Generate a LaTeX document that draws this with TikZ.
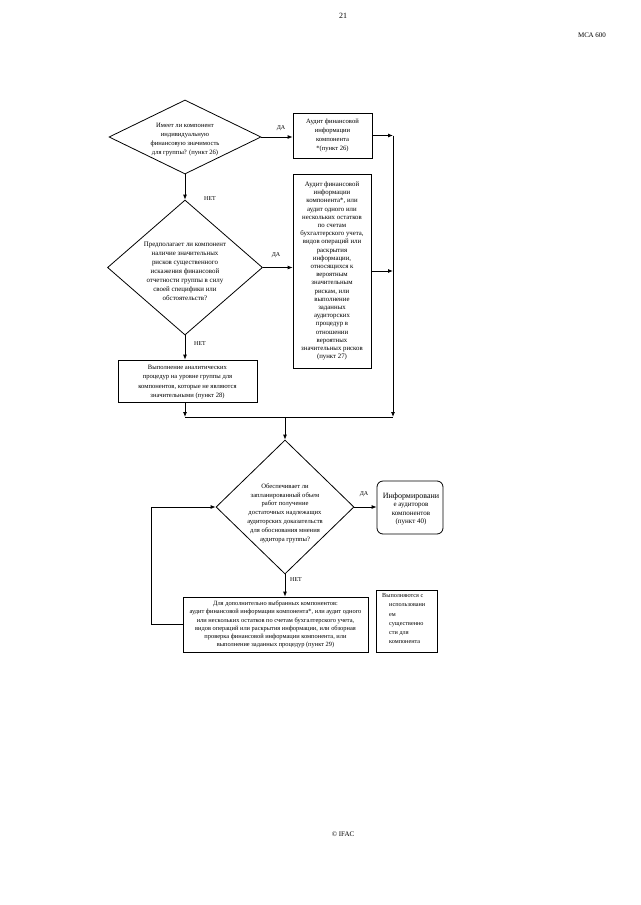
\documentclass[tikz,border=0pt]{standalone}
\usepackage{fontspec}
\setmainfont{Liberation Serif}
\usetikzlibrary{arrows.meta,shapes.geometric}
\begin{document}
\begin{tikzpicture}[x=1pt,y=-1pt,
  every node/.style={inner sep=0pt},
  ln/.style={line width=0.8pt},
  arr/.style={ln,-{Latex[length=5pt,width=4pt]}},
  dia/.style={draw,ln,diamond,minimum width=#1},
  box/.style={draw,ln,rectangle},
  txt/.style 2 args={align=center,font=\fontsize{#1}{#2}\selectfont},
  lab/.style={font=\fontsize{6}{7}\selectfont}]
\useasboundingbox (0,0) rectangle (640,905);
% header / footer
\node[font=\fontsize{8}{9}\selectfont] (pg) at (343,16) {21};
\node[font=\fontsize{7}{8}\selectfont] (std) at (592,35) {МСА 600};
\node[font=\fontsize{7}{8}\selectfont] (ifac) at (343,834) {© IFAC};
% shapes
\node[dia=152pt,minimum height=74pt] (d1) at (185,137) {};
\node[txt={6.6}{9}] (t1) at (185,140) {Имеет ли компонент\\индивидуальную\\финансовую значимость\\для группы? (пункт 26)};
\node[box,minimum width=79pt,minimum height=45pt] (b1) at (332.5,135.5) {};
\node[txt={6.6}{9}] (tb1) at (b1) {Аудит финансовой\\информации\\компонента\\*(пункт 26)};
\node[dia=155pt,minimum height=135pt] (d2) at (185,267.5) {};
\node[txt={6.9}{9}] (t2) at (185,271) {Предполагает ли компонент\\наличие значительных\\рисков существенного\\искажения финансовой\\отчетности группы в силу\\своей специфики или\\обстоятельств?};
\node[box,minimum width=78pt,minimum height=194pt] (b2) at (332,271) {};
\node[txt={6.8}{8.2}] (tb2) at (b2) {Аудит финансовой\\информации\\компонента*, или\\аудит одного или\\нескольких остатков\\по счетам\\бухгалтерского учета,\\видов операций или\\раскрытия\\информации,\\относящихся к\\вероятным\\значительным\\рискам, или\\выполнение\\заданных\\аудиторских\\процедур в\\отношении\\вероятных\\значительных рисков\\(пункт 27)};
\node[box,minimum width=139pt,minimum height=42pt] (b3) at (187.5,381) {};
\node[txt={6.6}{9.3}] (tb3) at (187.5,382) {Выполнение аналитических\\процедур на уровне группы для\\компонентов, которые не являются\\значительными (пункт 28)};
\node[dia=138pt,minimum height=134pt] (d3) at (285,507) {};
\node[txt={6.6}{8.8}] (t3) at (285,513) {Обеспечивает ли\\запланированный объем\\работ получение\\достаточных надлежащих\\аудиторских доказательств\\для обоснования мнения\\аудитора группы?};
\node[box,rounded corners=6pt,minimum width=66pt,minimum height=53pt] (b4) at (410,507.5) {};
\node[txt={7}{8.3}] (tb4) at (411,509) {{\fontsize{8}{8.3}\selectfont Информировани}\\е аудиторов\\компонентов\\(пункт 40)};
\node[box,minimum width=185pt,minimum height=55pt] (b5) at (275.5,624.5) {};
\node[txt={6.4}{8.2}] (tb5) at (b5) {Для дополнительно выбранных компонентов:\\аудит финансовой информации компонента*, или аудит одного\\или нескольких остатков по счетам бухгалтерского учета,\\видов операций или раскрытия информации, или обзорная\\проверка финансовой информации компонента, или\\выполнение заданных процедур (пункт 29)};
\node[box,minimum width=61pt,minimum height=62pt] (b6) at (406.5,621) {};
\node[anchor=north west,align=left,font=\fontsize{6.2}{9.2}\selectfont] (tb6) at (382,593.5) {Выполняются с\\\hspace*{7pt}использовани\\\hspace*{7pt}ем\\\hspace*{7pt}существенно\\\hspace*{7pt}сти для\\\hspace*{7pt}компонента};
% junction coordinates
\coordinate (jr) at (393,417);
\coordinate (jl) at (185,417);
\coordinate (jm) at (285,417);
% connectors
\draw[arr] (d1.east) -- (d1.east -| b1.west);
\draw[arr] (b1.east) -- (b1.east -| jr);
\draw[arr] (b1.east -| jr) -- (jr);
\draw[arr] (b2.east) -- (b2.east -| jr);
\draw[arr] (d1.south) -- (d2.north);
\draw[arr] (d2.east) -- (d2.east -| b2.west);
\draw[arr] (d2.south) -- (d2.south |- b3.north);
\draw[arr] (d2.south |- b3.south) -- (jl);
\draw[ln] (jl) -- (jr);
\draw[arr] (jm) -- (d3.north);
\draw[arr] (d3.east) -- (d3.east -| b4.west);
\draw[arr] (d3.south) -- (d3.south |- b5.north);
\draw[arr] (b5.west) -- ++(-31,0) |- (d3.west);
% labels
\node[lab] (l1) at (281,128) {ДА};
\node[lab] (l2) at (210,199) {НЕТ};
\node[lab] (l3) at (276,255) {ДА};
\node[lab] (l4) at (200,344) {НЕТ};
\node[lab] (l5) at (364,494) {ДА};
\node[lab] (l6) at (296,580) {НЕТ};
\end{tikzpicture}
\end{document}
